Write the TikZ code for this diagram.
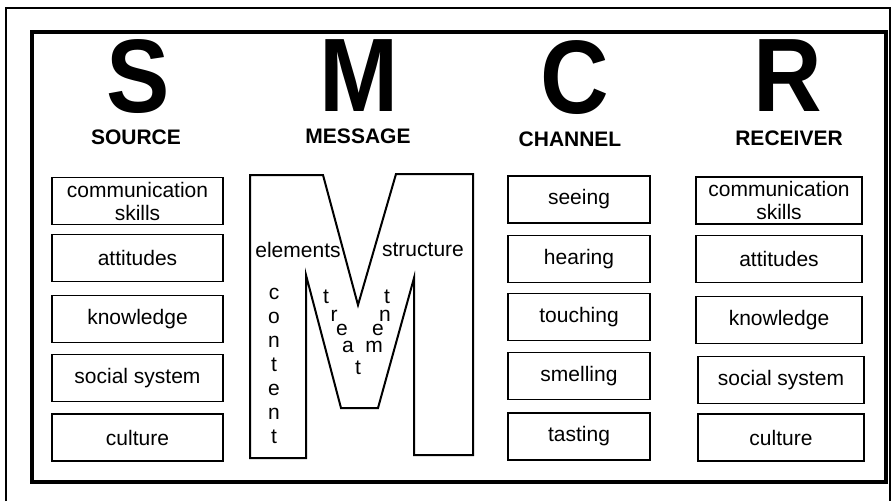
\documentclass[tikz,border=0pt]{standalone}
\usepackage{fontspec}
\setmainfont{Liberation Sans}
\usepackage{tikz}

\newcommand{\smcrletter}[1]{\scalebox{1}[1.1]{\fontsize{95}{95}\bfseries\selectfont #1}}

\begin{document}
\begin{tikzpicture}[x=1pt,y=-1pt,
  box/.style={draw, line width=1.8pt, minimum height=47pt, inner sep=0pt,
    align=center, font=\fontsize{21}{23}\selectfont},
  big/.style={inner sep=0pt, text depth=0pt},
  head/.style={font=\fontsize{21}{23}\bfseries\selectfont, inner sep=0pt},
  mlabel/.style={font=\fontsize{21}{23}\selectfont, inner sep=0pt}]
\useasboundingbox (0,0) rectangle (893,501);
\draw [line width=1.2pt] (6,501) -- (6,8) -- (890,8) -- (890,501);
\draw [line width=3.5pt] (32,32) rectangle (886,482);

\node [big] (S) at (138,76) {\smcrletter{S}};
\node [big] (M) at (359,76) {\smcrletter{M}};
\node [big] (C) at (575,77) {\smcrletter{C}};
\node [big] (R) at (788,76) {\smcrletter{R}};
\node [head] (source) at (136,137) {SOURCE};
\node [head] (message) at (358,136) {MESSAGE};
\node [head] (channel) at (570,139) {CHANNEL};
\node [head] (receiver) at (789,138) {RECEIVER};

\node [box, minimum width=171pt] (s1) at (137.5,201) {communication\\skills};
\node [box, minimum width=171pt] (s2) at (137.5,258) {attitudes};
\node [box, minimum width=171pt] (s3) at (137.5,319) {knowledge};
\node [box, minimum width=171pt] (s4) at (137.5,378) {social system};
\node [box, minimum width=171pt] (s5) at (137.5,437.5) {culture};

\node [box, minimum width=142pt] (c1) at (579,199.5) {seeing};
\node [box, minimum width=142pt] (c2) at (579,259) {hearing};
\node [box, minimum width=142pt] (c3) at (579,317) {touching};
\node [box, minimum width=142pt] (c4) at (579,376) {smelling};
\node [box, minimum width=142pt] (c5) at (579,436.5) {tasting};

\node [box, minimum width=166pt] (r1) at (779,200.5) {communication\\skills};
\node [box, minimum width=166pt] (r2) at (779,259) {attitudes};
\node [box, minimum width=166pt] (r3) at (779,320) {knowledge};
\node [box, minimum width=166pt] (r4) at (781,380) {social system};
\node [box, minimum width=166pt] (r5) at (781,437.5) {culture};

\draw [line width=2pt, line join=miter] (250,175) -- (323,175) -- (358,305) -- (396,174)
  -- (473,174) -- (473,455) -- (414,455) -- (414,278) -- (378,408) -- (341,408)
  -- (306,275) -- (306,458) -- (250,458) -- cycle;

\node [mlabel] (elements) at (298,250) {elements};
\node [mlabel] (structure) at (423,250) {structure};
\node [mlabel, align=center, font=\fontsize{21}{24}\selectfont] (content) at (274,366) {c\\o\\n\\t\\e\\n\\t};

\node [mlabel] (t1) at (326,297) {t};
\node [mlabel] (t2) at (334,316) {r};
\node [mlabel] (t3) at (342,330) {e};
\node [mlabel] (t4) at (348,347) {a};
\node [mlabel] (t5) at (358,368) {t};
\node [mlabel] (t6) at (374,347) {m};
\node [mlabel] (t7) at (378,330) {e};
\node [mlabel] (t8) at (385,316) {n};
\node [mlabel] (t9) at (387,297) {t};
\end{tikzpicture}
\end{document}
